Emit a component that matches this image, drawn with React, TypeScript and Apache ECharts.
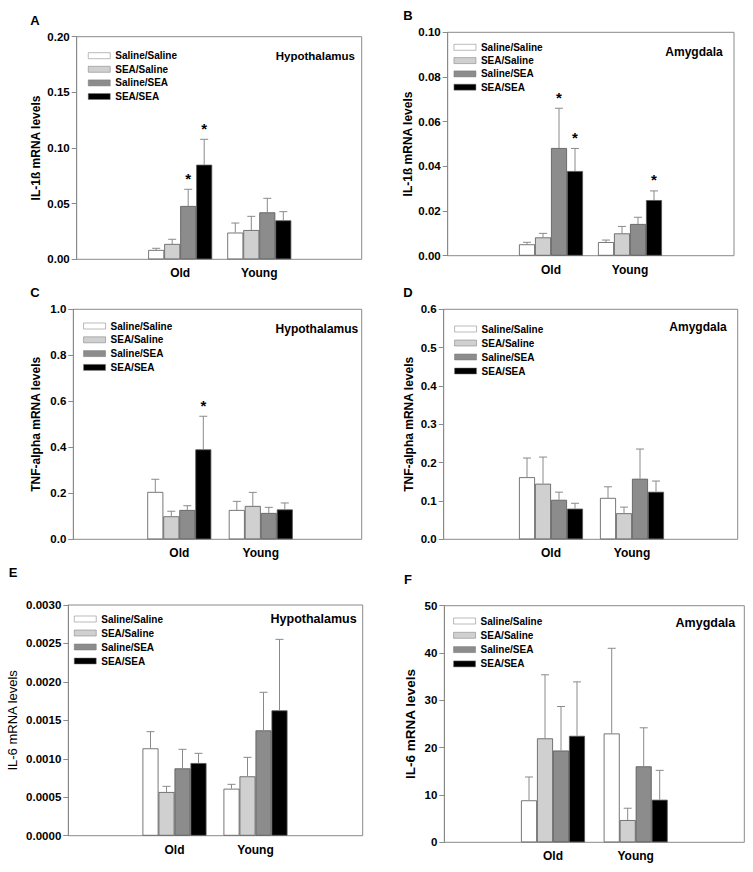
import React, { useEffect, useRef } from 'react';
import * as echarts from 'echarts';

const FONT = '"Liberation Sans", Arial, Helvetica, sans-serif';

const CATEGORIES = ['Old', 'Young'];
const GROUPS = ['Saline/Saline', 'SEA/Saline', 'Saline/SEA', 'SEA/SEA'];
const GROUP_COLORS = ['#ffffff', '#d0d0d0', '#8c8c8c', '#000000'];

// Each array: one row per group (GROUPS order), columns = [Old, Young]
// Panel A: IL-1ß, Hypothalamus
const aMean = [[0.0084, 0.024], [0.0138, 0.0263], [0.0479, 0.0422], [0.085, 0.035]];
const aUpper = [[0.0099, 0.0326], [0.018, 0.0386], [0.0629, 0.0548], [0.1078, 0.0428]];
const aStars = [[0, 0], [0, 0], [1, 0], [1, 0]];
const aTicks = { max: 0.2, interval: 0.05, digits: 2 };

// Panel B: IL-1ß, Amygdala
const bMean = [[0.0051, 0.0061], [0.0082, 0.01], [0.0482, 0.0142], [0.0379, 0.0249]];
const bUpper = [[0.006, 0.007], [0.01, 0.0131], [0.066, 0.0172], [0.048, 0.029]];
const bStars = [[0, 0], [0, 0], [1, 0], [1, 1]];
const bTicks = { max: 0.1, interval: 0.02, digits: 2 };

// Panel C: TNF-alpha, Hypothalamus
const cMean = [[0.206, 0.1275], [0.1, 0.145], [0.1275, 0.1145], [0.391, 0.13]];
const cUpper = [[0.261, 0.165], [0.122, 0.204], [0.146, 0.139], [0.535, 0.158]];
const cStars = [[0, 0], [0, 0], [0, 0], [1, 0]];
const cTicks = { max: 1.0, interval: 0.2, digits: 1 };

// Panel D: TNF-alpha, Amygdala
const dMean = [[0.162, 0.108], [0.145, 0.068], [0.103, 0.158], [0.08, 0.124]];
const dUpper = [[0.212, 0.137], [0.2145, 0.084], [0.123, 0.2355], [0.094, 0.152]];
const dStars = [[0, 0], [0, 0], [0, 0], [0, 0]];
const dTicks = { max: 0.6, interval: 0.1, digits: 1 };

// Panel E: IL-6, Hypothalamus
const eMean = [[0.001136, 0.000611], [0.000568, 0.000772], [0.000876, 0.00137], [0.000945, 0.00163]];
const eUpper = [[0.001353, 0.000668], [0.000642, 0.001019], [0.001123, 0.001865], [0.001071, 0.002553]];
const eStars = [[0, 0], [0, 0], [0, 0], [0, 0]];
const eTicks = { max: 0.003, interval: 0.0005, digits: 4 };

// Panel F: IL-6, Amygdala
const fMean = [[8.87, 23.0], [21.97, 4.7], [19.4, 16.06], [22.5, 9.0]];
const fUpper = [[13.8, 41.0], [35.4, 7.2], [28.7, 24.2], [33.9, 15.2]];
const fStars = [[0, 0], [0, 0], [0, 0], [0, 0]];
const fTicks = { max: 50, interval: 10, digits: 0 };

const PANELS = [
  { letter: 'A', region: 'Hypothalamus', yName: 'IL-1ß mRNA levels', mean: aMean, upper: aUpper, stars: aStars, ticks: aTicks },
  { letter: 'B', region: 'Amygdala', yName: 'IL-1ß mRNA levels', mean: bMean, upper: bUpper, stars: bStars, ticks: bTicks },
  { letter: 'C', region: 'Hypothalamus', yName: 'TNF-alpha mRNA levels', mean: cMean, upper: cUpper, stars: cStars, ticks: cTicks },
  { letter: 'D', region: 'Amygdala', yName: 'TNF-alpha mRNA levels', mean: dMean, upper: dUpper, stars: dStars, ticks: dTicks },
  { letter: 'E', region: 'Hypothalamus', yName: 'IL-6 mRNA levels', mean: eMean, upper: eUpper, stars: eStars, ticks: eTicks },
  { letter: 'F', region: 'Amygdala', yName: 'IL-6 mRNA levels', mean: fMean, upper: fUpper, stars: fStars, ticks: fTicks },
];

// Layout (pixels)
const LAYOUT = [
  { l: 76.7, r: 361.7, t: 36.7, b: 259.3, old: 180.2, young: 259.3, legX: 88, legY: 55.7, legStep: 13.6, regX: 355, regY: 55.7, regSize: 11.5, letX: 35, letY: 20.7, nameGap: 34.5, nameSize: 12, nameWeight: 'bold' },
  { l: 447.7, r: 734, t: 32.3, b: 255.7, old: 551, young: 630, legX: 453.7, legY: 47.3, legStep: 13.3, regX: 722.7, regY: 51.7, regSize: 12, letX: 408, letY: 15, nameGap: 33.5, nameSize: 12, nameWeight: 'bold' },
  { l: 73.3, r: 361.7, t: 309.3, b: 539.3, old: 179.3, young: 260.8, legX: 83.3, legY: 326, legStep: 13.8, regX: 358.3, regY: 329.3, regSize: 12, letX: 35, letY: 292, nameGap: 31, nameSize: 12, nameWeight: 'bold' },
  { l: 443.7, r: 737.7, t: 309.3, b: 539.3, old: 551, young: 632, legX: 454.3, legY: 329, legStep: 14, regX: 726.7, regY: 327.3, regSize: 12, letX: 408, letY: 292, nameGap: 29, nameSize: 12, nameWeight: 'bold' },
  { l: 68.3, r: 362.7, t: 605, b: 835.7, old: 174.5, young: 255.5, legX: 74, legY: 619, legStep: 14, regX: 356.7, regY: 619.3, regSize: 12.5, letX: 13, letY: 572, nameGap: 49, nameSize: 13, nameWeight: 'normal' },
  { l: 444.3, r: 744.3, t: 605.7, b: 842.3, old: 553, young: 635.7, legX: 453.3, legY: 621, legStep: 14.3, regX: 735.3, regY: 623.3, regSize: 12.5, letX: 408, letY: 579, nameGap: 26.5, nameSize: 13.5, nameWeight: 'bold' },
];

const BAR_W = 16;
const AXIS_GREY = '#8a8a8a';
const W = 753;
const H = 872;

function buildOption() {
  const grid: any[] = [];
  const xAxis: any[] = [];
  const yAxis: any[] = [];
  const series: any[] = [];
  const legend: any[] = [];
  const graphic: any[] = [];

  PANELS.forEach((p, i) => {
    const L = LAYOUT[i];
    const catW = L.young - L.old;
    grid.push({
      left: L.l, top: L.t, width: L.r - L.l, height: L.b - L.t,
      show: true, borderColor: AXIS_GREY, borderWidth: 1, backgroundColor: 'transparent',
    });
    grid.push({
      left: L.old - catW / 2, top: L.t, width: catW * 2, height: L.b - L.t,
      show: false,
    });
    xAxis.push({ gridIndex: 2 * i, type: 'value', min: 0, max: 1, show: false });
    xAxis.push({
      gridIndex: 2 * i + 1, type: 'category', data: CATEGORIES,
      axisLine: { show: false }, axisTick: { show: false },
      axisLabel: { color: '#000', fontWeight: 'bold', fontSize: 12, margin: 8, fontFamily: FONT },
    });
    const digits = p.ticks.digits;
    yAxis.push({
      gridIndex: 2 * i, type: 'value', min: 0, max: p.ticks.max, interval: p.ticks.interval,
      name: p.yName, nameLocation: 'middle', nameGap: L.nameGap, nameRotate: 90,
      nameTextStyle: { color: '#000', fontWeight: L.nameWeight, fontSize: L.nameSize, fontFamily: FONT },
      axisLine: { show: true, lineStyle: { color: AXIS_GREY, width: 1 } },
      axisTick: { show: true, length: 5, inside: false, lineStyle: { color: AXIS_GREY } },
      splitLine: { show: false },
      axisLabel: {
        color: '#000', fontWeight: 'bold', fontSize: 11.5, margin: 7, fontFamily: FONT,
        formatter: (v: number) => v.toFixed(digits),
      },
    });
    yAxis.push({ gridIndex: 2 * i + 1, type: 'value', min: 0, max: p.ticks.max, show: false });

    GROUPS.forEach((g, k) => {
      series.push({
        type: 'bar', name: g, xAxisIndex: 2 * i + 1, yAxisIndex: 2 * i + 1,
        data: p.mean[k], barWidth: BAR_W, barGap: '0%',
        itemStyle: { color: GROUP_COLORS[k], borderColor: '#555', borderWidth: 0.8 },
        emphasis: { disabled: true }, z: 2,
      });
    });

    const errData: any[] = [];
    GROUPS.forEach((g, k) => {
      CATEGORIES.forEach((c, ci) => {
        errData.push([ci, p.upper[k][ci], p.mean[k][ci], k, p.stars[k][ci]]);
      });
    });
    series.push({
      type: 'custom', name: 'err' + i, xAxisIndex: 2 * i + 1, yAxisIndex: 2 * i + 1,
      data: errData, z: 3, clip: false, silent: true,
      encode: { x: 0, y: 1 },
      renderItem: (params: any, api: any) => {
        const ci = api.value(0);
        const up = api.value(1);
        const mean = api.value(2);
        const k = api.value(3);
        const star = api.value(4);
        const base = api.coord([ci, mean]);
        const top = api.coord([ci, up]);
        const x = base[0] + (k - 1.5) * BAR_W;
        const children: any[] = [
          { type: 'line', shape: { x1: x, y1: base[1], x2: x, y2: top[1] }, style: { stroke: AXIS_GREY, lineWidth: 1 } },
          { type: 'line', shape: { x1: x - 4, y1: top[1], x2: x + 4, y2: top[1] }, style: { stroke: AXIS_GREY, lineWidth: 1 } },
        ];
        if (star) {
          children.push({
            type: 'text', x: x, y: top[1] - 11,
            style: { text: '*', fill: '#000', fontSize: 15, fontWeight: 'bold', fontFamily: FONT, align: 'center', verticalAlign: 'middle' },
          });
        }
        return { type: 'group', children };
      },
    });

    legend.push({
      data: GROUPS, orient: 'vertical', left: L.legX, top: L.legY - 6, padding: 0,
      itemWidth: 22, itemHeight: 6, itemGap: L.legStep - 12, icon: 'rect', selectedMode: false,
      itemStyle: { borderWidth: 0.5, borderColor: '#777' },
      textStyle: { color: '#000', fontWeight: 'bold', fontSize: 10, lineHeight: 12, fontFamily: FONT },
    });

    graphic.push({
      type: 'text', x: L.regX, y: L.regY,
      style: { text: p.region, fill: '#000', fontWeight: 'bold', fontSize: L.regSize, fontFamily: FONT, align: 'right', verticalAlign: 'middle' },
    });
    graphic.push({
      type: 'text', x: L.letX, y: L.letY,
      style: { text: p.letter, fill: '#000', fontWeight: 'bold', fontSize: 13, fontFamily: FONT, align: 'center', verticalAlign: 'middle' },
    });
  });

  return {
    animation: false,
    backgroundColor: '#ffffff',
    textStyle: { fontFamily: FONT },
    grid, xAxis, yAxis, series, legend, graphic,
  };
}

export default function App() {
  const ref = useRef<HTMLDivElement>(null);
  useEffect(() => {
    if (!ref.current) return;
    const chart = echarts.init(ref.current, undefined, { renderer: 'svg', width: W, height: H });
    chart.setOption(buildOption() as any);
    return () => chart.dispose();
  }, []);
  return <div ref={ref} style={{ position: 'absolute', left: 0, top: 0, width: W, height: H }} />;
}
